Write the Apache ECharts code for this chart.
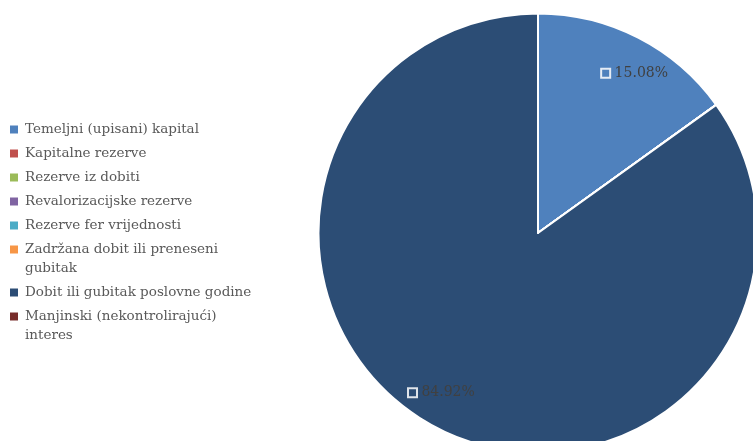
<!DOCTYPE html>
<html>
<head>
<meta charset="utf-8">
<script src="https://cdn.jsdelivr.net/npm/echarts@6/dist/echarts.min.js"></script>
<style>
html,body{margin:0;padding:0;background:#fff;}
#chart{width:753px;height:441px;}
</style>
</head>
<body>
<div id="chart"></div>
<script>
const categories = [
  'Temeljni (upisani) kapital',
  'Kapitalne rezerve',
  'Rezerve iz dobiti',
  'Revalorizacijske rezerve',
  'Rezerve fer vrijednosti',
  'Zadržana dobit ili preneseni gubitak',
  'Dobit ili gubitak poslovne godine',
  'Manjinski (nekontrolirajući) interes'
];
const values = [15.08, 0, 0, 0, 0, 0, 84.92, 0];
const colors = ['#4F81BD', '#C0504D', '#9BBB59', '#8064A2', '#4BACC6', '#F79646', '#2C4D75', '#772C2A'];
const legendLines = {
  'Zadržana dobit ili preneseni gubitak': ['Zadržana dobit ili preneseni', 'gubitak'],
  'Manjinski (nekontrolirajući) interes': ['Manjinski (nekontrolirajući)', 'interes']
};

const FONT = 'DejaVu Serif';
const chart = echarts.init(document.getElementById('chart'));
const center = [538, 233];
const R = 219.5;

const pieData = categories.map((c, i) => ({ name: c, value: values[i] }));
const labelData = categories.map((c, i) => ({
  name: c, value: values[i],
  label: { show: values[i] > 0 }
}));

const legendRich = { sp: { width: 7 }, ind: { width: 15 } };
colors.forEach((col, i) => {
  legendRich['c' + i] = { width: 8, height: 8, backgroundColor: col };
});

chart.setOption({
  animation: false,
  color: colors,
  legend: {
    orient: 'vertical',
    left: 0,
    top: 115,
    icon: 'none',
    itemWidth: 0,
    itemHeight: 8,
    itemGap: 5,
    formatter: n => {
      const i = categories.indexOf(n);
      const lines = legendLines[n] || [n];
      let s = '{c' + i + '|}{sp|}' + lines[0];
      for (let k = 1; k < lines.length; k++) s += '\n{ind|}' + lines[k];
      return s;
    },
    textStyle: { fontFamily: FONT, fontSize: 13.5, color: '#595959', lineHeight: 19, rich: legendRich },
    data: categories
  },
  series: [
    {
      type: 'pie',
      center: center,
      radius: [0, R],
      startAngle: 90,
      clockwise: true,
      avoidLabelOverlap: false,
      label: { show: false },
      labelLine: { show: false },
      itemStyle: { borderColor: '#ffffff', borderWidth: 2 },
      emphasis: { disabled: true },
      data: pieData
    },
    {
      type: 'pie',
      center: center,
      radius: [148, R],
      startAngle: 86,
      clockwise: true,
      silent: true,
      avoidLabelOverlap: false,
      itemStyle: { color: 'rgba(0,0,0,0)', borderWidth: 0 },
      labelLine: { show: false },
      emphasis: { disabled: true },
      label: {
        position: 'inside',
        formatter: p => '{box|} ' + p.percent.toFixed(2) + '%',
        fontFamily: FONT,
        fontSize: 14,
        color: '#404040',
        rich: {
          box: { width: 9, height: 9, borderColor: 'rgba(255,255,255,0.85)', borderWidth: 1, backgroundColor: 'transparent' }
        }
      },
      data: labelData
    }
  ]
});
</script>
</body>
</html>
